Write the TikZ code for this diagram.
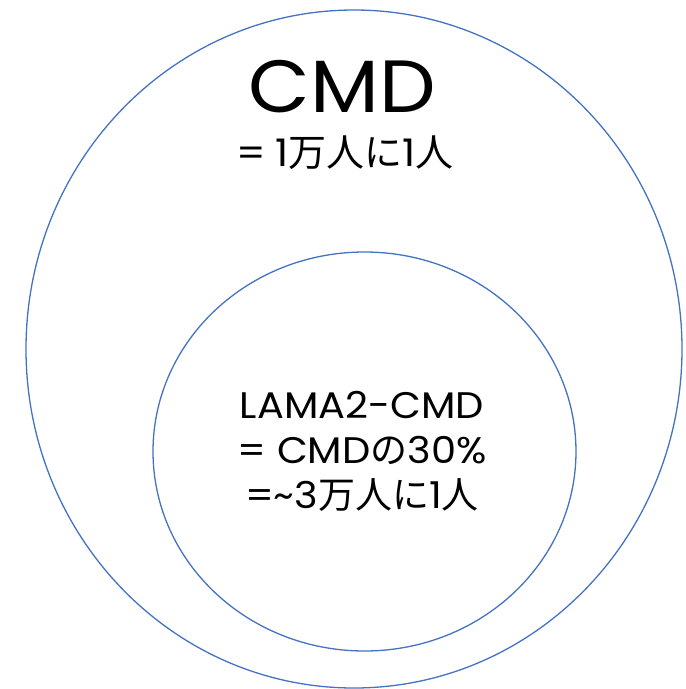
\documentclass[tikz,border=0pt]{standalone}
\usepackage{fontspec}
\setmainfont{Poppins}[FakeStretch=1.08]
\newfontfamily\jpfont{Noto Sans CJK JP}
\newcommand{\J}[1]{{\jpfont #1}}
\usetikzlibrary{shapes.geometric}
\definecolor{ringblue}{HTML}{4472C4}
\begin{document}
\begin{tikzpicture}[x=1pt,y=-1pt,
  ring/.style={ellipse, draw=ringblue, line width=1.3pt, inner sep=0pt},
  lbl/.style={align=center, inner sep=0pt, text=black}]
\useasboundingbox (0,0) rectangle (686,689);
\node[ring, minimum width=656pt, minimum height=678pt] (outer) at (354,349) {};
\node[ring, minimum width=423pt, minimum height=399pt] (inner) at (364.5,451.5) {};
\node[lbl, anchor=base, text height=50pt, text depth=0pt, font=\fontsize{74}{74}\selectfont] (cmd) at (342,112) {CMD};
\node[lbl, anchor=base, text height=28pt, text depth=3pt, font=\fontsize{38}{38}\selectfont] (rate) at (345,166) {=\hspace{0.25em}1\J{万人に}1\J{人}};
\node[lbl, font=\fontsize{37}{45}\selectfont] (lama) at (362,451)
  {LAMA2-CMD\\= CMD\J{の}30\%\\=\textasciitilde 3\J{万人に}1\J{人}};
\end{tikzpicture}
\end{document}
